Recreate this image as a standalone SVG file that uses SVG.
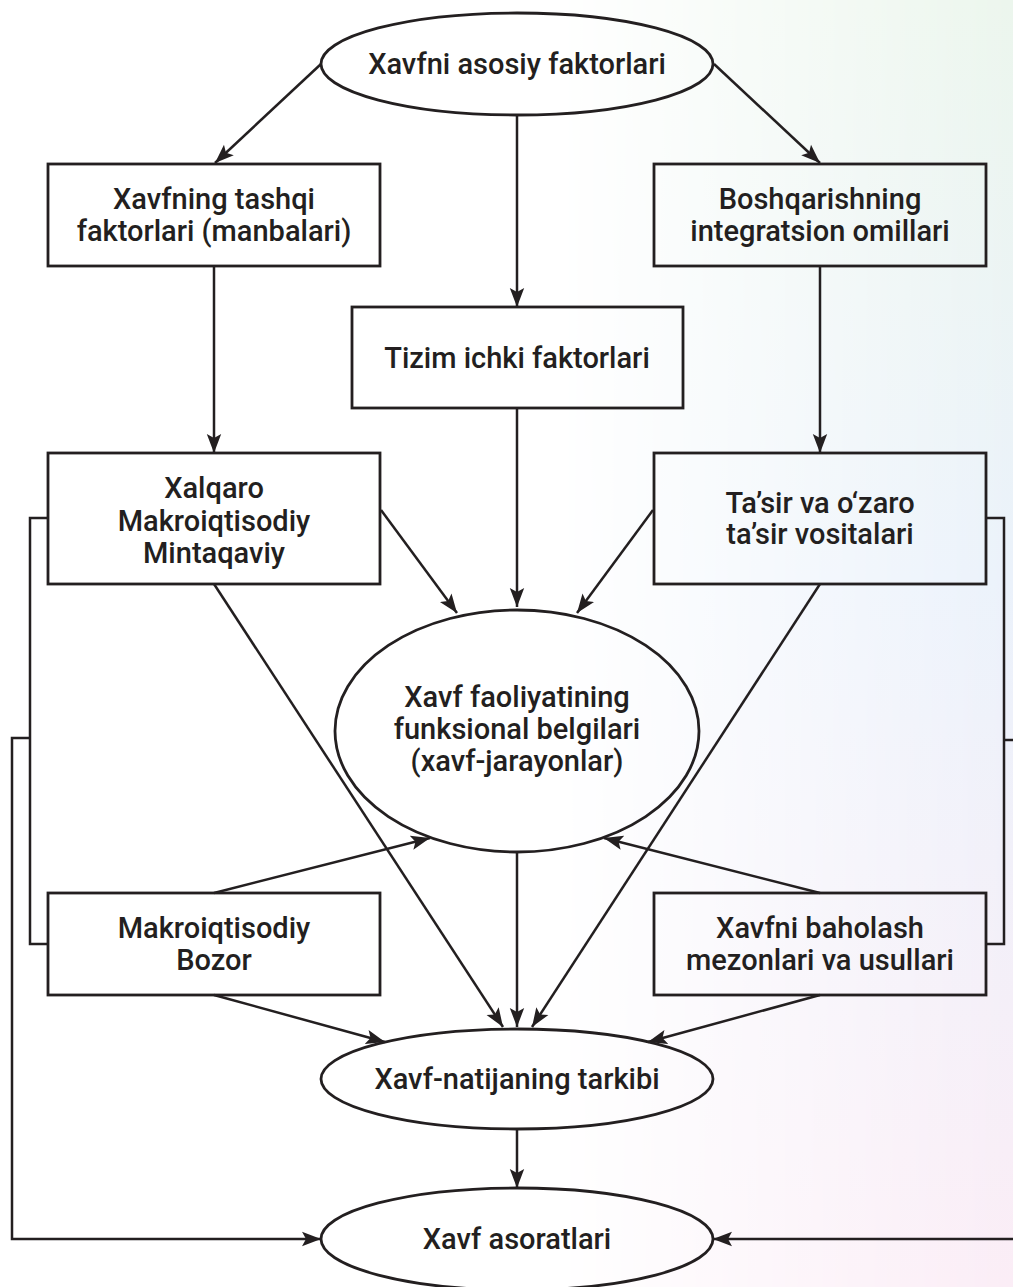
<svg xmlns="http://www.w3.org/2000/svg" width="1013" height="1287" viewBox="0 0 1013 1287">
  <defs>
    <style>
      .box { fill: none; stroke: #231f20; stroke-width: 2.8; }
      .oval { fill: none; stroke: #231f20; stroke-width: 2.8; }
      .edge { fill: none; stroke: #231f20; stroke-width: 2.5; }
      .arrow { marker-end: url(#head); }
      text { font-family: Roboto, "Liberation Sans", sans-serif; font-size: 29px; font-weight: 500; fill: #231f20; text-anchor: middle; }
    </style>
    <marker id="head" viewBox="0 0 20 16" refX="19" refY="8" markerWidth="20" markerHeight="16" markerUnits="userSpaceOnUse" orient="auto">
      <path d="M0,0.8 L19,8 L0,15.2 L4,8 z" fill="#231f20"/>
    </marker>
    <!-- soft tint on the right side of the page -->
    <linearGradient id="tint" x1="0" y1="0" x2="0" y2="1">
      <stop offset="0" stop-color="#ecf6ed"/>
      <stop offset="0.45" stop-color="#ebf2fb"/>
      <stop offset="1" stop-color="#fbedf6"/>
    </linearGradient>
    <linearGradient id="fade" x1="0" y1="0" x2="1" y2="0">
      <stop offset="0.55" stop-color="#000"/>
      <stop offset="1" stop-color="#fff"/>
    </linearGradient>
    <mask id="fadeMask">
      <rect width="1013" height="1287" fill="url(#fade)"/>
    </mask>
  </defs>

  <rect width="1013" height="1287" fill="#ffffff"/>
  <rect width="1013" height="1287" fill="url(#tint)" mask="url(#fadeMask)"/>

  <g id="connectors">
    <line class="edge arrow" x1="321" y1="64" x2="215" y2="163"/>
    <line class="edge arrow" x1="517" y1="115" x2="517" y2="307"/>
    <line class="edge arrow" x1="714" y1="64" x2="820" y2="163"/>
    <line class="edge arrow" x1="214" y1="266" x2="214" y2="453"/>
    <line class="edge arrow" x1="820" y1="266" x2="820" y2="453"/>
    <line class="edge arrow" x1="381" y1="510" x2="457" y2="613"/>
    <line class="edge arrow" x1="517" y1="408" x2="517" y2="607"/>
    <line class="edge arrow" x1="653" y1="510" x2="577" y2="613"/>
    <line class="edge arrow" x1="214" y1="893" x2="430" y2="838"/>
    <line class="edge arrow" x1="820" y1="893" x2="604" y2="838"/>
    <line class="edge arrow" x1="214" y1="584" x2="503" y2="1027"/>
    <line class="edge arrow" x1="517" y1="852" x2="517" y2="1027"/>
    <line class="edge arrow" x1="820" y1="584" x2="532" y2="1027"/>
    <line class="edge arrow" x1="214" y1="995" x2="385" y2="1042"/>
    <line class="edge arrow" x1="820" y1="995" x2="648" y2="1042"/>
    <line class="edge arrow" x1="517" y1="1130" x2="517" y2="1188"/>
    <!-- left bracket and return line -->
    <polyline class="edge" points="48,518 30,518 30,944 48,944"/>
    <polyline class="edge arrow" points="30,738 12,738 12,1239 321,1239"/>
    <!-- right bracket and return line -->
    <polyline class="edge" points="986,518 1004,518 1004,944 986,944"/>
    <line class="edge" x1="1004" y1="740" x2="1013" y2="740"/>
    <line class="edge arrow" x1="1013" y1="1239" x2="713" y2="1239"/>
  </g>

  <g id="n-asosiy">
    <ellipse class="oval" cx="517" cy="64" rx="196" ry="51"/>
    <text x="517" y="74">Xavfni asosiy faktorlari</text>
  </g>
  <g id="n-tashqi">
    <rect class="box" x="48" y="164" width="332" height="102"/>
    <text x="214" y="209">Xavfning tashqi</text>
    <text x="214" y="241">faktorlari (manbalari)</text>
  </g>
  <g id="n-boshqarish">
    <rect class="box" x="654" y="164" width="332" height="102"/>
    <text x="820" y="209">Boshqarishning</text>
    <text x="820" y="241">integratsion omillari</text>
  </g>
  <g id="n-ichki">
    <rect class="box" x="352" y="307" width="331" height="101"/>
    <text x="517" y="368">Tizim ichki faktorlari</text>
  </g>
  <g id="n-xalqaro">
    <rect class="box" x="48" y="453" width="332" height="131"/>
    <text x="214" y="498">Xalqaro</text>
    <text x="214" y="531">Makroiqtisodiy</text>
    <text x="214" y="563">Mintaqaviy</text>
  </g>
  <g id="n-tasir">
    <rect class="box" x="654" y="453" width="332" height="131"/>
    <text x="820" y="513">Ta’sir va o‘zaro</text>
    <text x="820" y="544">ta’sir vositalari</text>
  </g>
  <g id="n-jarayon">
    <ellipse class="oval" cx="517" cy="731" rx="182" ry="121"/>
    <text x="517" y="707">Xavf faoliyatining</text>
    <text x="517" y="739">funksional belgilari</text>
    <text x="517" y="771">(xavf-jarayonlar)</text>
  </g>
  <g id="n-bozor">
    <rect class="box" x="48" y="893" width="332" height="102"/>
    <text x="214" y="938">Makroiqtisodiy</text>
    <text x="214" y="970">Bozor</text>
  </g>
  <g id="n-baholash">
    <rect class="box" x="654" y="893" width="332" height="102"/>
    <text x="820" y="938">Xavfni baholash</text>
    <text x="820" y="970">mezonlari va usullari</text>
  </g>
  <g id="n-natija">
    <ellipse class="oval" cx="517" cy="1079" rx="196" ry="50"/>
    <text x="517" y="1089">Xavf-natijaning tarkibi</text>
  </g>
  <g id="n-asorat">
    <ellipse class="oval" cx="517" cy="1239" rx="196" ry="51"/>
    <text x="517" y="1249">Xavf asoratlari</text>
  </g>
</svg>
